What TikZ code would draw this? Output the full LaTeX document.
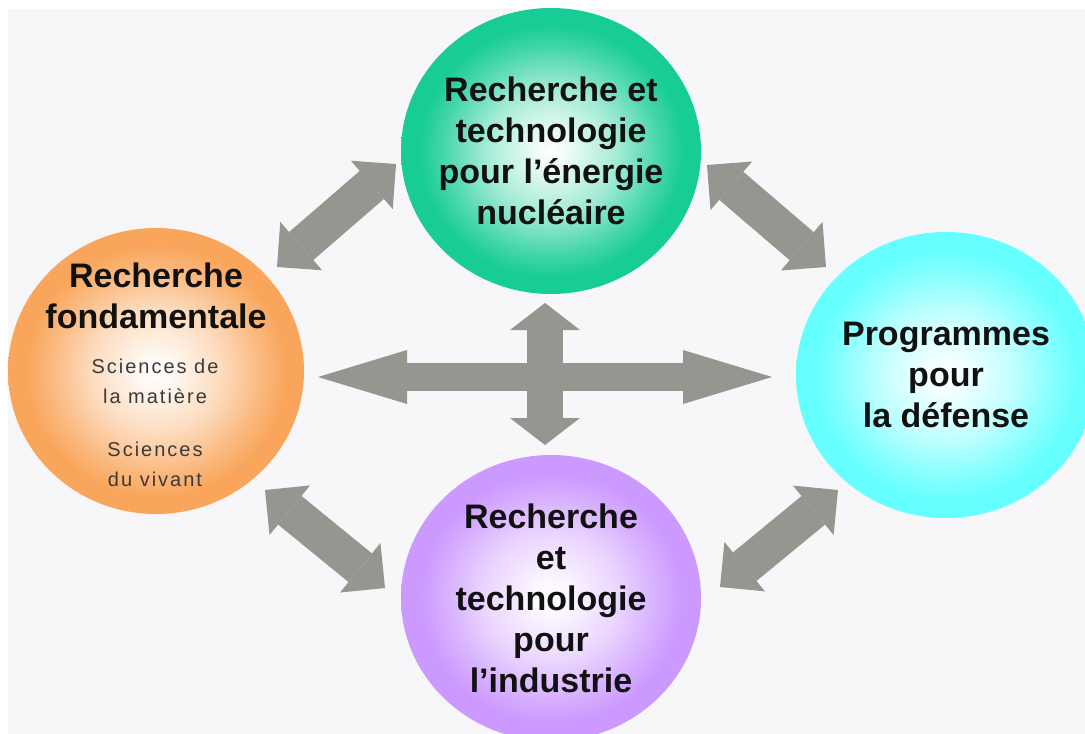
\documentclass[tikz,border=0pt]{standalone}
\usepackage{fontspec}
\setmainfont{Liberation Sans}
\usepackage{tikz}
\usetikzlibrary{arrows.meta,shapes.geometric}
\tikzset{every picture/.style={line width=0.75pt}}

\definecolor{fond}{RGB}{247,247,250}
\definecolor{gris}{RGB}{150,150,145}
\definecolor{cvert}{RGB}{24,204,150}
\definecolor{corange}{RGB}{249,166,92}
\definecolor{ccyan}{RGB}{102,255,255}
\definecolor{cviolet}{RGB}{204,153,255}
\definecolor{texte}{RGB}{17,17,17}
\definecolor{gristexte}{RGB}{58,58,58}

% white centre, coloured rim (rim of the shape sits at 25bp)
\colorlet{bord}{gray}
\pgfdeclareradialshading[bord]{bulle}{\pgfpointorigin}{%
  color(0bp)=(white); color(3bp)=(bord!8!white); color(11bp)=(bord!40!white);
  color(18bp)=(bord!80!white); color(22bp)=(bord); color(50bp)=(bord)}

\tikzset{
  boule/.style={ellipse, inner sep=0pt, minimum width=225pt, minimum height=214.5pt,
    shade, shading=bulle, /utils/exec={\colorlet{bord}{#1}}},
  titre/.style={font=\fontsize{25.5pt}{30.75pt}\selectfont\bfseries, align=center,
    inner sep=0pt, text=texte},
  petit/.style={font=\fontsize{15pt}{22.5pt}\selectfont\addfontfeature{LetterSpace=10},
    align=center, inner sep=0pt, text=gristexte},
  flechediag/.style={gris, line width=27.75pt,
    >={Triangle[length=24pt,width=48pt,line width=0pt]}, <->},
  flechehoriz/.style={gris, line width=21pt,
    >={Triangle[length=66.75pt,width=40.5pt,line width=0pt]}, <->},
  flecheverti/.style={gris, line width=27pt,
    >={Triangle[length=20.25pt,width=52.5pt,line width=0pt]}, <->},
}

\begin{document}
\begin{tikzpicture}[x=0.75pt,y=0.75pt,yscale=-1,xscale=1]
	\useasboundingbox (0,0) rectangle (1085,734);
	\clip (0,0) rectangle (1085,734);
	\fill[white] (0,0) rectangle (1085,734);
	\fill[fond] (8,9) rectangle (1085,734);
	
	%Shape: Ellipse [energie]
	\node[boule=cvert] (energie) at (551,151) {};
	%Shape: Ellipse [fondamentale]
	\node[boule=corange, minimum width=222pt] (fondamentale) at (156,371) {};
	%Shape: Ellipse [defense]
	\node[boule=ccyan] (defense) at (946,375) {};
	%Shape: Ellipse [industrie]
	\node[boule=cviolet] (industrie) at (551,598) {};
	
	%Arrow ends
	\coordinate (no-haut) at (396,164);
	\coordinate (no-bas) at (277,267);
	\coordinate (ne-haut) at (707,165);
	\coordinate (ne-bas) at (826,267);
	\coordinate (so-haut) at (265,490);
	\coordinate (so-bas) at (385,588);
	\coordinate (se-haut) at (838,490);
	\coordinate (se-bas) at (720,587);
	\coordinate (h-gauche) at (318,377);
	\coordinate (h-droite) at (772,377);
	\coordinate (v-haut) at (545,303);
	\coordinate (v-bas) at (545,445);
	
	%Double Arrows
	\draw[flechediag] (no-haut) -- (no-bas);
	\draw[flechediag] (ne-haut) -- (ne-bas);
	\draw[flechediag] (so-haut) -- (so-bas);
	\draw[flechediag] (se-haut) -- (se-bas);
	\draw[flechehoriz] (h-gauche) -- (h-droite);
	\draw[flecheverti] (v-haut) -- (v-bas);
	
	% Text Node
	\node[titre] (energie-txt) at (energie) {Recherche et\\technologie\\pour l’énergie\\nucléaire};
	% Text Node
	\node[titre] (defense-txt) at (defense) {Programmes\\pour\\la défense};
	% Text Node
	\node[titre] (industrie-txt) at (industrie) {Recherche\\et\\technologie\\pour\\l’industrie};
	% Text Node
	\node[titre] (fond-txt) at (156,296) {Recherche\\fondamentale};
	% Text Node
	\node[petit] (matiere-txt) at (155,381) {Sciences de\\la matière};
	% Text Node
	\node[petit] (vivant-txt) at (155,464) {Sciences\\du vivant};
	
\end{tikzpicture}
\end{document}
